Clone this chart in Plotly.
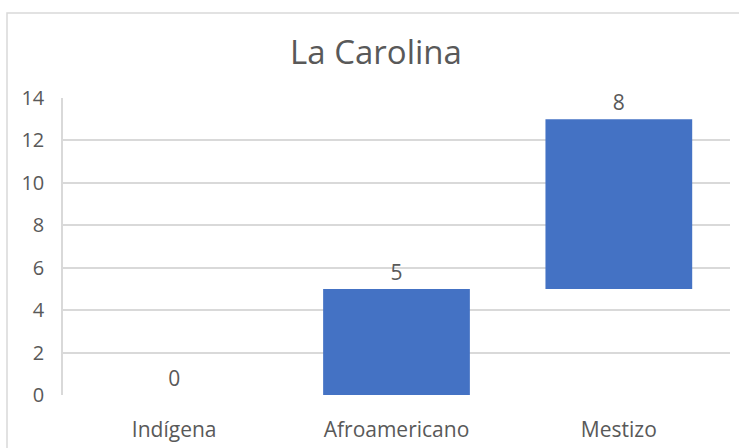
import plotly.graph_objects as go

categories = ["Indígena", "Afroamericano", "Mestizo"]
values = [0, 5, 8]
measures = ["relative", "relative", "relative"]
tick_vals = [0, 2, 4, 6, 8, 10, 12, 14]

bar_color = "#4472C4"
text_color = "#595959"
grid_color = "#D9D9D9"
FONT = "Open Sans"

fig = go.Figure(go.Waterfall(
    x=categories,
    y=values,
    measure=measures,
    text=[str(v) for v in values],
    textposition="outside",
    textfont=dict(family=FONT, size=21, color=text_color),
    outsidetextfont=dict(family=FONT, size=21, color=text_color),
    constraintext="none",
    increasing=dict(marker=dict(color=bar_color, line=dict(color=bar_color, width=0))),
    decreasing=dict(marker=dict(color=bar_color, line=dict(color=bar_color, width=0))),
    totals=dict(marker=dict(color=bar_color, line=dict(color=bar_color, width=0))),
    connector=dict(visible=False),
    width=0.66,
    cliponaxis=False,
    hoverinfo="x+y",
))

fig.update_layout(
    width=739, height=448,
    margin=dict(l=63, r=9, t=98, b=53, pad=0),
    paper_bgcolor="white",
    plot_bgcolor="white",
    showlegend=False,
    title=dict(text="La Carolina", x=376 / 739, xref="container", xanchor="center",
               y=1 - 52 / 448, yanchor="middle",
               font=dict(family=FONT, size=33, color=text_color)),
    xaxis=dict(
        showgrid=False, showline=False, zeroline=False, ticks="",
        tickfont=dict(family=FONT, size=21, color=text_color),
        ticklabelstandoff=20, automargin=False,
    ),
    yaxis=dict(
        range=[0, 14], tickvals=tick_vals, showgrid=True, gridcolor=grid_color,
        gridwidth=1.5, zeroline=False, showline=True, linecolor=grid_color,
        linewidth=1.5, ticks="",
        tickfont=dict(family=FONT, size=20, color=text_color),
        ticklabelstandoff=13, automargin=False,
    ),
    shapes=[
        dict(type="rect", xref="paper", yref="paper",
             x0=(7 - 63) / 667, x1=1.2, y0=-0.5, y1=(395 - 13) / 297,
             line=dict(color=grid_color, width=1.5), fillcolor="rgba(0,0,0,0)",
             layer="below"),
    ],
)

fig.write_html("out.html")
